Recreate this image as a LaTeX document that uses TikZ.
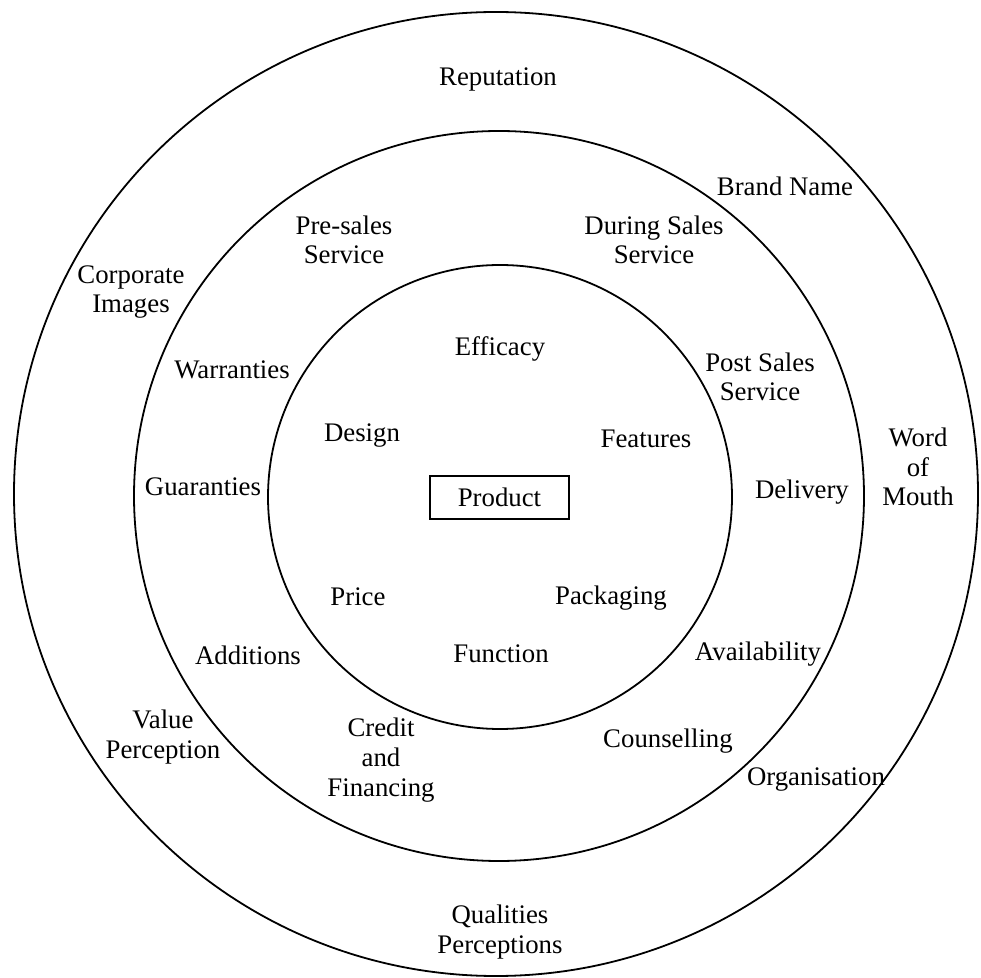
\documentclass[tikz,border=0pt]{standalone}
\usepackage{fontspec}
\setmainfont{Liberation Serif}
\begin{document}
\begin{tikzpicture}[x=0.5pt,y=-0.5pt,
  lbl/.style={font=\fontsize{13.4}{14.8}\selectfont, align=center, inner sep=0pt},
  ring/.style={draw, circle, line width=0.9pt, inner sep=0pt},
  prodbox/.style={draw, line width=0.9pt, inner sep=0pt, minimum width=69.5pt, minimum height=21.5pt, font=\fontsize{13.4}{14.8}\selectfont}]
\useasboundingbox (0,0) rectangle (981,978);
% rings
\node[ring, minimum size=482pt] (outer) at (496,494) {};
\node[ring, minimum size=365pt] (middle) at (499,496) {};
\node[ring, minimum size=232pt] (inner) at (500,497) {};
% centre
\node[prodbox] (product) at (499.5,497.5) {Product};
% inner ring labels
\node[lbl] (efficacy) at (500,349) {Efficacy};
\node[lbl] (design) at (362,436) {Design};
\node[lbl] (features) at (646,439) {Features};
\node[lbl] (price) at (358,597) {Price};
\node[lbl] (packaging) at (611,598) {Packaging};
\node[lbl] (function) at (501,654) {Function};
% middle ring labels
\node[lbl] (presales) at (344,240) {Pre-sales\\Service};
\node[lbl] (duringsales) at (654,240) {During Sales\\Service};
\node[lbl] (postsales) at (760,377) {Post Sales\\Service};
\node[lbl] (warranties) at (232,370) {Warranties};
\node[lbl] (guaranties) at (203,487) {Guaranties};
\node[lbl] (delivery) at (802,492) {Delivery};
\node[lbl] (additions) at (248,655) {Additions};
\node[lbl] (availability) at (758,654) {Availability};
\node[lbl] (credit) at (381,760) {Credit\\and\\Financing};
\node[lbl] (counselling) at (668,741) {Counselling};
% outer ring labels
\node[lbl] (reputation) at (498,79) {Reputation};
\node[lbl] (brandname) at (785,186) {Brand Name};
\node[lbl] (corporate) at (131,292) {Corporate\\Images};
\node[lbl] (wordofmouth) at (918,467) {Word\\of\\Mouth};
\node[lbl] (valueperc) at (163,737) {Value\\Perception};
\node[lbl] (organisation) at (816,780) {Organisation};
\node[lbl] (qualities) at (500,932) {Qualities\\Perceptions};
\end{tikzpicture}
\end{document}
